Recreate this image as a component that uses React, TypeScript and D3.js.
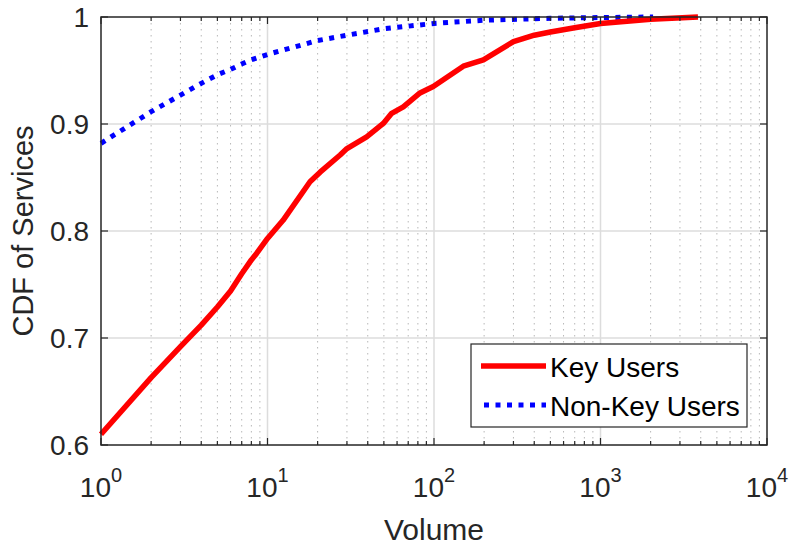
import { useEffect } from 'react';
import * as d3 from 'd3';

// Key Users CDF (volume, cdf)
const keyVolume = [1, 2, 3, 4, 5, 6, 7, 8, 8.6, 10, 12.4, 18, 20.7, 27.3, 30, 39.4, 49.6, 55.7, 65.4, 82.4, 99, 150, 198, 300, 400, 500, 700, 1000, 2000, 3850];
const keyCdf = [0.61, 0.663, 0.692, 0.712, 0.729, 0.744, 0.76, 0.773, 0.779, 0.793, 0.81, 0.846, 0.855, 0.871, 0.877, 0.888, 0.9005, 0.91, 0.916, 0.929, 0.935, 0.954, 0.96, 0.977, 0.983, 0.986, 0.99, 0.994, 0.998, 1.0];

// Non-Key Users CDF
const nonKeyVolume = [1, 2, 3, 4, 5, 6, 7, 8, 10, 20, 30, 50, 100, 200, 500, 1000, 2070];
const nonKeyCdf = [0.882, 0.9115, 0.927, 0.938, 0.946, 0.951, 0.956, 0.96, 0.965, 0.978, 0.983, 0.989, 0.994, 0.997, 0.9988, 0.9995, 1.0];

const xTickExps = [0, 1, 2, 3, 4];
const yTicks = [0.6, 0.7, 0.8, 0.9, 1];
const seriesNames = ['Key Users', 'Non-Key Users'];

const W = 789;
const H = 547;
const M = { left: 101, right: 767, top: 17, bottom: 445 };
const FONT = '"Liberation Sans", Arial, Helvetica, sans-serif';
const AXIS = '#262626';

export default function App() {
  useEffect(() => {
    document.body.style.margin = '0';
  }, []);

  const x = d3.scaleLog().domain([1, 10000]).range([M.left, M.right]);
  const y = d3.scaleLinear().domain([0.6, 1]).range([M.bottom, M.top]);

  const minor: number[] = [];
  for (let e = 0; e < 4; e++) {
    for (let k = 2; k <= 9; k++) minor.push(k * Math.pow(10, e));
  }

  const line = d3
    .line<[number, number]>()
    .x((d) => x(d[0]))
    .y((d) => y(d[1]));

  const keyPts = keyVolume.map((v, i) => [v, keyCdf[i]] as [number, number]);
  const nonKeyPts = nonKeyVolume.map((v, i) => [v, nonKeyCdf[i]] as [number, number]);

  return (
    <svg width={W} height={H} style={{ display: 'block', background: '#fff' }} fontFamily={FONT}>
      {/* minor grid (x only) */}
      {minor.map((m) => (
        <line key={'mg' + m} x1={x(m)} x2={x(m)} y1={M.top} y2={M.bottom}
          stroke="#b8b8b8" strokeWidth={1} strokeDasharray="1.5,4.5" />
      ))}
      {/* major grid */}
      {xTickExps.slice(1, -1).map((e) => (
        <line key={'gx' + e} x1={x(Math.pow(10, e))} x2={x(Math.pow(10, e))} y1={M.top} y2={M.bottom}
          stroke="#dcdcdc" strokeWidth={1.5} />
      ))}
      {yTicks.slice(1, -1).map((t) => (
        <line key={'gy' + t} x1={M.left} x2={M.right} y1={y(t)} y2={y(t)} stroke="#dcdcdc" strokeWidth={1.5} />
      ))}

      {/* series */}
      <path d={line(nonKeyPts) || ''} fill="none" stroke="#0000ff" strokeWidth={5} strokeDasharray="5,6.5" />
      <path d={line(keyPts) || ''} fill="none" stroke="#ff0000" strokeWidth={5.5} strokeLinejoin="round" />

      {/* ticks */}
      {minor.map((m) => (
        <g key={'mt' + m} stroke={AXIS} strokeWidth={1.2}>
          <line x1={x(m)} x2={x(m)} y1={M.bottom} y2={M.bottom - 4} />
          <line x1={x(m)} x2={x(m)} y1={M.top} y2={M.top + 4} />
        </g>
      ))}
      {xTickExps.map((e) => (
        <g key={'xt' + e} stroke={AXIS} strokeWidth={1.2}>
          <line x1={x(Math.pow(10, e))} x2={x(Math.pow(10, e))} y1={M.bottom} y2={M.bottom - 7} />
          <line x1={x(Math.pow(10, e))} x2={x(Math.pow(10, e))} y1={M.top} y2={M.top + 7} />
        </g>
      ))}
      {yTicks.map((t) => (
        <g key={'yt' + t} stroke={AXIS} strokeWidth={1.2}>
          <line x1={M.left} x2={M.left + 7} y1={y(t)} y2={y(t)} />
          <line x1={M.right} x2={M.right - 7} y1={y(t)} y2={y(t)} />
        </g>
      ))}

      {/* box */}
      <rect x={M.left} y={M.top} width={M.right - M.left} height={M.bottom - M.top}
        fill="none" stroke={AXIS} strokeWidth={1.5} />

      {/* tick labels */}
      {xTickExps.map((e) => (
        <text key={'xl' + e} x={x(Math.pow(10, e))} y={497} textAnchor="middle" fontSize={28} fill={AXIS}>
          10<tspan dy={-15} fontSize={20}>{e}</tspan>
        </text>
      ))}
      {yTicks.map((t) => (
        <text key={'yl' + t} x={89} y={y(t)} dy="0.36em" textAnchor="end" fontSize={28} fill={AXIS}>
          {d3.format('')(t)}
        </text>
      ))}

      {/* axis labels */}
      <text x={(M.left + M.right) / 2} y={540} textAnchor="middle" fontSize={30} fill={AXIS}>Volume</text>
      <text transform={`translate(33,${(M.top + M.bottom) / 2}) rotate(-90)`} textAnchor="middle" fontSize={29} fill={AXIS}>
        CDF of Services
      </text>

      {/* legend */}
      <rect x={471} y={344} width={276} height={83} fill="#fff" stroke={AXIS} strokeWidth={1.2} />
      <line x1={481} x2={546} y1={366} y2={366} stroke="#ff0000" strokeWidth={5.5} />
      <line x1={484} x2={546} y1={405} y2={405} stroke="#0000ff" strokeWidth={5} strokeDasharray="5,6.5" />
      <text x={550} y={377} fontSize={28} fill="#000">{seriesNames[0]}</text>
      <text x={550} y={416} fontSize={28} fill="#000">{seriesNames[1]}</text>
    </svg>
  );
}
